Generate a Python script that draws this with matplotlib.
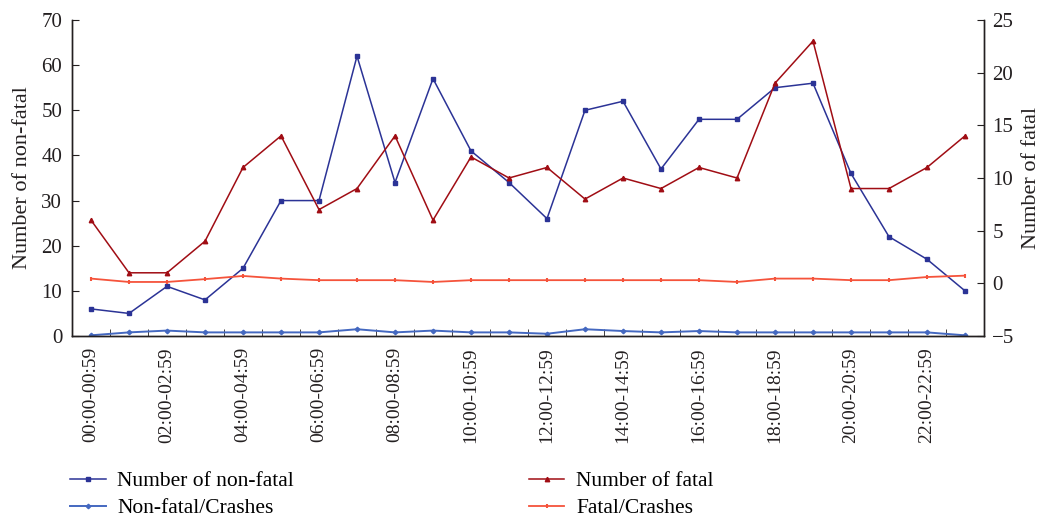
import numpy as np
import matplotlib
matplotlib.use("Agg")
import matplotlib.pyplot as plt
from matplotlib.ticker import FixedLocator

plt.rcParams['font.family'] = ['Liberation Serif', 'DejaVu Serif']
plt.rcParams['font.size'] = 14

# hourly bins
hours = [f"{h:02d}:00-{h:02d}:59" for h in range(24)]

non_fatal = [6, 5, 11, 8, 15, 30, 30, 62, 34, 57, 41, 34,
             26, 50, 52, 37, 48, 48, 55, 56, 36, 22, 17, 10]
fatal = [6, 1, 1, 4, 11, 14, 7, 9, 14, 6, 12, 10,
         11, 8, 10, 9, 11, 10, 19, 23, 9, 9, 11, 14]
non_fatal_per_crash = [0.15, 0.8, 1.2, 0.8, 0.8, 0.8, 0.8, 1.5, 0.8, 1.2, 0.8, 0.8,
                       0.5, 1.5, 1.1, 0.8, 1.1, 0.8, 0.8, 0.8, 0.8, 0.8, 0.8, 0.15]
fatal_per_crash = [0.45, 0.13, 0.13, 0.4, 0.7, 0.45, 0.3, 0.3, 0.3, 0.13, 0.3, 0.3,
                   0.3, 0.3, 0.3, 0.3, 0.3, 0.13, 0.45, 0.45, 0.3, 0.3, 0.6, 0.73]

c_nf = '#2b3396'
c_f = '#a00d14'
c_nfc = '#4468c0'
c_fc = '#f5533b'
ink = '#231f20'

x = np.arange(len(hours))

fig = plt.figure(figsize=(10.41, 5.17), dpi=100)
ax = fig.add_axes([72 / 1041, 1 - 336 / 517, (984 - 72) / 1041, 316 / 517])
ax2 = ax.twinx()

l1, = ax.plot(x, non_fatal, color=c_nf, lw=1.1, marker='s', ms=2.3,
              label='Number of non-fatal')
l3, = ax.plot(x, non_fatal_per_crash, color=c_nfc, lw=1.4, marker='D', ms=2.3,
              label='Non-fatal/Crashes')
l2, = ax2.plot(x, fatal, color=c_f, lw=1.1, marker='^', ms=3.2,
               label='Number of fatal')
l4, = ax2.plot(x, fatal_per_crash, color=c_fc, lw=1.3, marker='|', ms=3.5,
               mew=1.5, label='Fatal/Crashes')

ax.set_xlim(-0.5, len(hours) - 0.5)
ax.set_ylim(0, 70)
ax.set_yticks(range(0, 71, 10))
ax2.set_ylim(-5, 25)
ax2.set_yticks(range(-5, 26, 5))

ax.set_xticks(x[::2])
ax.set_xticklabels(hours[::2], rotation=90)
ax.xaxis.set_minor_locator(FixedLocator(np.arange(0.5, len(hours) - 0.5, 1)))
ax.tick_params(axis='x', which='major', length=0, pad=8, colors=ink)
ax.tick_params(axis='x', which='minor', length=5, direction='in', color=ink)
ax.tick_params(axis='y', length=5, direction='in', colors=ink, pad=7,
               labelsize=15)
ax2.tick_params(axis='y', length=5, direction='in', colors=ink, pad=6,
                labelsize=15)

for a in (ax, ax2):
    a.spines['top'].set_visible(False)
    for s in ('left', 'right', 'bottom'):
        a.spines[s].set_color(ink)
        a.spines[s].set_linewidth(1.0)

ax.set_ylabel('Number of non-fatal', color=ink, fontsize=16, labelpad=7)
ax2.set_ylabel('Number of fatal', color=ink, fontsize=16, labelpad=5)

fig.legend(handles=[l1, l3, l2, l4], ncol=2, loc='upper left',
           bbox_to_anchor=(70 / 1041, 1 - 471 / 517), frameon=False,
           prop={'size': 15.5},
           borderpad=0, borderaxespad=0, handlelength=1.65,
           handletextpad=0.55, columnspacing=10.9, labelspacing=0.33)

fig.savefig('out.png', dpi=100)
